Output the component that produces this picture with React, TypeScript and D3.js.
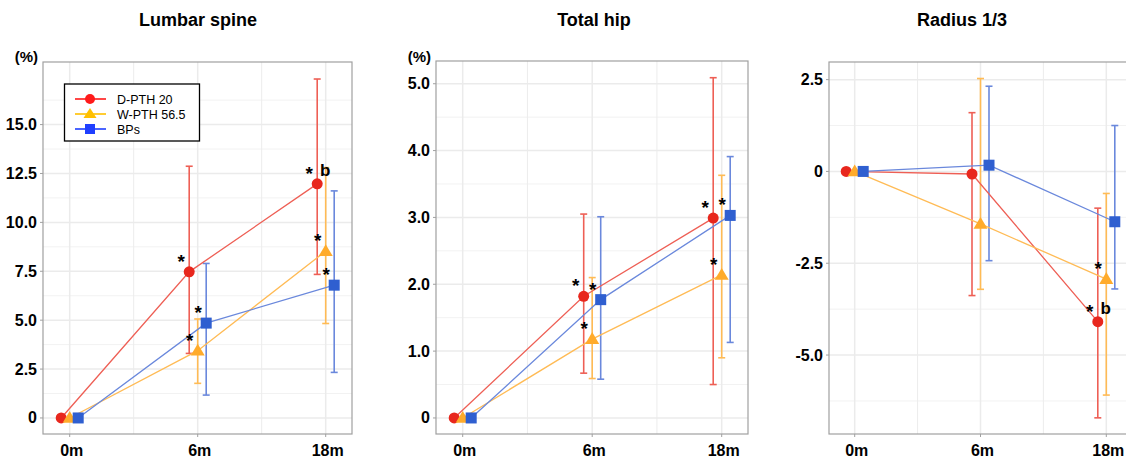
import * as d3 from "d3";
import React from "react";

const times = ["0m", "6m", "18m"];
const seriesNames = ["D-PTH 20", "W-PTH 56.5", "BPs"];

// Lumbar spine (% change): mean, upper, lower
const lumbarMean = [[0, 7.47, 11.97], [0, 3.44, 8.53], [0, 4.85, 6.79]];
const lumbarHigh = [[0, 12.87, 17.33], [0, 5.06, 12.8], [0, 7.9, 11.61]];
const lumbarLow = [[0, 3.3, 7.34], [0, 1.77, 4.83], [0, 1.17, 2.33]];

// Total hip
const hipMean = [[0, 1.82, 2.99], [0, 1.18, 2.14], [0, 1.77, 3.03]];
const hipHigh = [[0, 3.05, 5.09], [0, 2.1, 3.63], [0, 3.01, 3.91]];
const hipLow = [[0, 0.67, 0.5], [0, 0.59, 0.9], [0, 0.58, 1.13]];

// Radius 1/3
const radiusMean = [[0, -0.07, -4.09], [0, -1.43, -2.93], [0, 0.17, -1.37]];
const radiusHigh = [[0, 1.6, -1.0], [0, 2.53, -0.6], [0, 2.32, 1.25]];
const radiusLow = [[0, -3.38, -6.71], [0, -3.21, -6.09], [0, -2.43, -3.2]];

const lumbarTicks = [0, 2.5, 5, 7.5, 10, 12.5, 15];
const hipTicks = [0, 1, 2, 3, 4, 5];
const radiusTicks = [-5, -2.5, 0, 2.5];

// significance marks: [series, time index, label]
const lumbarMarks: [number, number, string][] = [[0, 1, "*"], [1, 1, "*"], [2, 1, "*"], [0, 2, "* b"], [1, 2, "*"], [2, 2, "*"]];
const hipMarks: [number, number, string][] = [[0, 1, "*"], [1, 1, "*"], [2, 1, "*"], [0, 2, "*"], [1, 2, "*"], [2, 2, "*"]];
const radiusMarks: [number, number, string][] = [[1, 2, "*"], [0, 2, "* b"]];

const markerColors = ["#e8271d", "#ffab2b", "#2f5fd0"];
const lineColors = ["#ee5f55", "#ffbb55", "#6a88dc"];
const legendColors = ["#ff1a1a", "#ffc000", "#1f3fff"];
const FONT = "'Liberation Sans', Arial, Helvetica, sans-serif";

function fmt(v: number) {
  return v === 0 ? "0" : v.toFixed(1);
}

function Marker({ i, x, y }: { i: number; x: number; y: number }) {
  if (i === 0) return <circle cx={x} cy={y} r={5.5} fill={markerColors[0]} />;
  if (i === 1) {
    const s = 7;
    return <path d={`M${x},${y - s}L${x + s},${y + s * 0.7}L${x - s},${y + s * 0.7}Z`} fill={markerColors[1]} />;
  }
  return <rect x={x - 5.5} y={y - 5.5} width={11} height={11} fill={markerColors[2]} />;
}

type PanelProps = {
  title: string;
  titleX: number;
  left: number;
  right: number;
  top: number;
  bottom: number;
  xFirst: number;
  xLast: number;
  yDomain: [number, number];
  ticks: number[];
  mean: number[][];
  high: number[][];
  low: number[][];
  marks: [number, number, string][];
  unit?: boolean;
  legend?: boolean;
};

function Panel(p: PanelProps) {
  const x = d3.scalePoint<string>().domain(times).range([p.xFirst, p.xLast]);
  const y = d3.scaleLinear().domain(p.yDomain).range([p.bottom, p.top]);
  const dodge = [-8.5, 0, 8.5];
  const minorY = p.ticks.slice(0, -1).map((t, k) => (t + p.ticks[k + 1]) / 2);
  const d = p.ticks[1] - p.ticks[0];
  minorY.unshift(p.ticks[0] - d / 2);
  minorY.push(p.ticks[p.ticks.length - 1] + d / 2);
  const minorX = [0, 1].map((k) => (x(times[k])! + x(times[k + 1])!) / 2);
  const line = d3.line<[number, number]>().x((d) => d[0]).y((d) => d[1]);
  const clipId = `clip-${p.title.replace(/\W/g, "")}`;

  return (
    <g>
      <text x={p.titleX} y={26} textAnchor="middle" fontFamily={FONT} fontWeight="bold" fontSize={18}>{p.title}</text>
      {p.unit && (
        <text x={p.left - 5} y={62} textAnchor="end" fontFamily={FONT} fontWeight="bold" fontSize={15}>(%)</text>
      )}
      <clipPath id={clipId}>
        <rect x={p.left} y={p.top} width={p.right - p.left} height={p.bottom - p.top} />
      </clipPath>
      <g clipPath={`url(#${clipId})`}>
        {minorY.map((v) => (
          <line key={"my" + v} x1={p.left} x2={p.right} y1={y(v)} y2={y(v)} stroke="#f2f2f2" strokeWidth={1} />
        ))}
        {minorX.map((v) => (
          <line key={"mx" + v} x1={v} x2={v} y1={p.top} y2={p.bottom} stroke="#ececec" strokeWidth={1} />
        ))}
        {p.ticks.map((v) => (
          <line key={"gy" + v} x1={p.left} x2={p.right} y1={y(v)} y2={y(v)} stroke="#ebebeb" strokeWidth={1.5} />
        ))}
        {times.map((t) => (
          <line key={"gx" + t} x1={x(t)} x2={x(t)} y1={p.top} y2={p.bottom} stroke="#ebebeb" strokeWidth={1.5} />
        ))}
      </g>
      <rect x={p.left} y={p.top} width={p.right - p.left} height={p.bottom - p.top} fill="none" stroke="#a0a0a0" strokeWidth={1.2} />
      {p.ticks.map((v) => (
        <g key={"t" + v}>
          <line x1={p.left - 3} x2={p.left} y1={y(v)} y2={y(v)} stroke="#a0a0a0" />
          <text x={p.left - 6} y={y(v) + 5.5} textAnchor="end" fontFamily={FONT} fontWeight="bold" fontSize={16}>{fmt(v)}</text>
        </g>
      ))}
      {times.map((t) => (
        <g key={"xt" + t}>
          <line x1={x(t)} x2={x(t)} y1={p.bottom} y2={p.bottom + 3} stroke="#a0a0a0" />
          <text x={x(t)! + 2} y={456} textAnchor="middle" fontFamily={FONT} fontWeight="bold" fontSize={16}>{t}</text>
        </g>
      ))}
      {/* error bars */}
      {p.mean.map((row, i) =>
        row.map((_, k) => {
          if (k === 0) return null;
          const cx = x(times[k])! + dodge[i];
          return (
            <g key={`e${i}${k}`} stroke={lineColors[i]} strokeWidth={1.6}>
              <line x1={cx} x2={cx} y1={y(p.high[i][k])} y2={y(p.low[i][k])} />
              <line x1={cx - 3.5} x2={cx + 3.5} y1={y(p.high[i][k])} y2={y(p.high[i][k])} />
              <line x1={cx - 3.5} x2={cx + 3.5} y1={y(p.low[i][k])} y2={y(p.low[i][k])} />
            </g>
          );
        })
      )}
      {/* lines */}
      {p.mean.map((row, i) => (
        <path
          key={"l" + i}
          d={line(row.map((v, k) => [x(times[k])! + dodge[i], y(v)]))!}
          fill="none"
          stroke={lineColors[i]}
          strokeWidth={1.3}
        />
      ))}
      {/* markers */}
      {p.mean.map((row, i) =>
        row.map((v, k) => <Marker key={`m${i}${k}`} i={i} x={x(times[k])! + dodge[i]} y={y(v)} />)
      )}
      {/* significance */}
      {p.marks.map(([i, k, label]) => {
        const cx = x(times[k])! + dodge[i];
        const cy = y(p.mean[i][k]);
        return (
          <g key={`s${i}${k}`} fontFamily={FONT} fontWeight="bold">
            <text x={cx - 8} y={cy - 4} textAnchor="middle" fontSize={19}>*</text>
            {label.includes("b") && (
              <text x={cx + 8} y={cy - 8} textAnchor="middle" fontSize={17}>b</text>
            )}
          </g>
        );
      })}
      {p.legend && (
        <g>
          <rect x={64.5} y={84} width={135} height={57} fill="white" stroke="#000" strokeWidth={1.3} />
          {seriesNames.map((n, i) => {
            const ly = 99 + i * 15;
            return (
              <g key={n}>
                <line x1={75} x2={106} y1={ly} y2={ly} stroke={legendColors[i]} strokeWidth={1.6} />
                {i === 0 && <circle cx={90} cy={ly} r={5} fill={legendColors[0]} />}
                {i === 1 && <path d={`M90,${ly - 6}L96.5,${ly + 4}L83.5,${ly + 4}Z`} fill={legendColors[1]} />}
                {i === 2 && <rect x={85} y={ly - 5} width={10} height={10} fill={legendColors[2]} />}
                <text x={117} y={ly + 4.5} fontFamily={FONT} fontSize={12.5}>{n}</text>
              </g>
            );
          })}
        </g>
      )}
    </g>
  );
}

export default function App() {
  return (
    <svg width={1126} height={460} style={{ position: "absolute", left: 0, top: 0, background: "white" }}>
      <Panel
        title="Lumbar spine" titleX={198} left={43} right={352} top={62} bottom={434}
        xFirst={69.7} xLast={325.7} yDomain={[-0.82, 18.2]} ticks={lumbarTicks}
        mean={lumbarMean} high={lumbarHigh} low={lumbarLow} marks={lumbarMarks} unit legend
      />
      <Panel
        title="Total hip" titleX={594} left={436} right={748} top={61} bottom={434}
        xFirst={462.7} xLast={721.7} yDomain={[-0.24, 5.34]} ticks={hipTicks}
        mean={hipMean} high={hipHigh} low={hipLow} marks={hipMarks} unit
      />
      <Panel
        title="Radius 1/3" titleX={962} left={829} right={1132} top={62} bottom={434}
        xFirst={854.7} xLast={1106.3} yDomain={[-7.15, 2.98]} ticks={radiusTicks}
        mean={radiusMean} high={radiusHigh} low={radiusLow} marks={radiusMarks}
      />
    </svg>
  );
}
